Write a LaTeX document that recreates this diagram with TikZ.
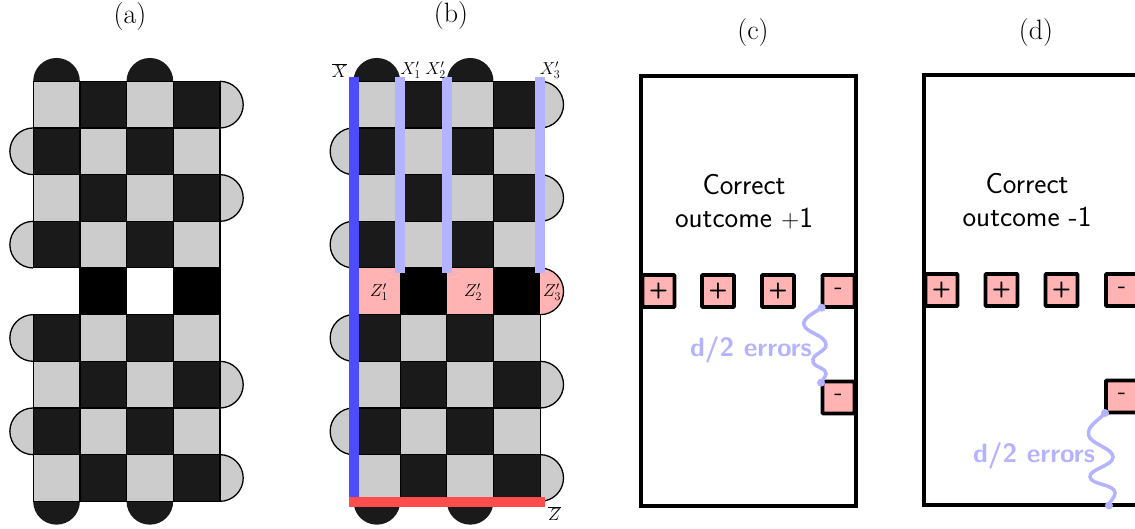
\documentclass[tikz,border=0pt]{standalone}
\definecolor{cellg}{HTML}{CCCCCC}
\definecolor{celld}{HTML}{1A1A1A}
\definecolor{pinkc}{HTML}{FFB3B3}
\definecolor{lblue}{HTML}{B3B3FF}
\definecolor{sblue}{HTML}{4D4DFF}
\definecolor{sred}{HTML}{FF4D4D}
\newcommand{\fsz}[1]{\fontsize{#1}{#1}\selectfont}
\tikzset{
  cellline/.style={draw=black,line width=1.3pt},
  capline/.style={draw=black,line width=1.3pt},
  panel/.style={draw=black,line width=3.3pt,fill=white},
  stab/.style={draw=black,line width=3.8pt,fill=pinkc,rounded corners=0.8pt,minimum width=32pt,minimum height=32pt,inner sep=0pt,font=\sffamily\fsz{26}},
  stabplus/.style={stab,font=\sffamily\bfseries\fsz{22}},
  figtitle/.style={font=\fsz{28}},
  body/.style={font=\sffamily\fsz{29},align=center,text=black},
  errtxt/.style={font=\sffamily\bfseries\fsz{26.5},text=lblue},
  squig/.style={draw=lblue,line width=3.5pt,line cap=round},
  errdot/.style={circle,fill=lblue,inner sep=0pt,minimum size=8pt},
  qlabel/.style={font=\fsz{17},inner sep=0pt},
  zlabel/.style={font=\fsz{17},inner sep=0pt},
}
\def\kk{12.885}\def\rr{23.335}
% semicircle path segments starting at the current point
\newcommand{\capup}{.. controls +(0,-\kk) and +(-\kk,0) .. ++(\rr,-\rr) .. controls +(\kk,0) and +(0,-\kk) .. ++(\rr,\rr)}
\newcommand{\capdown}{.. controls +(0,\kk) and +(-\kk,0) .. ++(\rr,\rr) .. controls +(\kk,0) and +(0,\kk) .. ++(\rr,-\rr)}
\newcommand{\capright}{.. controls +(\kk,0) and +(0,-\kk) .. ++(\rr,\rr) .. controls +(0,\kk) and +(\kk,0) .. ++(-\rr,\rr)}
\newcommand{\capleft}{.. controls +(-\kk,0) and +(0,-\kk) .. ++(-\rr,\rr) .. controls +(0,\kk) and +(-\kk,0) .. ++(\rr,\rr)}
% #1 left x, #2 colour of even mid cells (white/pink)
\newcommand{\lattice}[2]{%
  \def\csz{46.67}\def\tyy{81.3}%
  \foreach \c in {0,2}{
    \fill[celld] ({#1+\c*\csz},\tyy) \capup -- cycle;
    \fill[celld] ({#1+\c*\csz},{\tyy+9*\csz}) \capdown -- cycle;
  }
  \foreach \r in {1,3,5,7}{
    \filldraw[fill=cellg,capline] (#1,{\tyy+\r*\csz}) \capleft;
  }
  \foreach \r in {0,2,6,8}{
    \filldraw[fill=cellg,capline] ({#1+4*\csz},{\tyy+\r*\csz}) \capright;
  }
  \foreach \r in {0,...,8}{
    \foreach \c in {0,...,3}{
      \pgfmathtruncatemacro{\prty}{mod(\r+\c,2)}
      \ifnum\r=4\relax
        \ifodd\c\relax
          \filldraw[fill=black,draw=black,line width=1.3pt] ({#1+\c*\csz},{\tyy+\r*\csz}) rectangle ++(\csz,\csz);
        \else
          \fill[#2] ({#1+\c*\csz},{\tyy+\r*\csz}) rectangle ++(\csz,\csz);
        \fi
      \else
        \ifnum\prty=0\relax
          \filldraw[fill=cellg,cellline] ({#1+\c*\csz},{\tyy+\r*\csz}) rectangle ++(\csz,\csz);
        \else
          \filldraw[fill=celld,cellline] ({#1+\c*\csz},{\tyy+\r*\csz}) rectangle ++(\csz,\csz);
        \fi
      \fi
    }
  }
}
\begin{document}
\begin{tikzpicture}[x=1pt,y=-1pt]
\useasboundingbox (0,0) rectangle (1135,529);
\clip (0,0) rectangle (1135,529);
\lattice{33.2}{white}
\lattice{353.5}{pinkc}
\filldraw[fill=pinkc,capline] (540.2,268) \capright;
\fill[lblue] (395,76.7) rectangle (405,273.3);
\fill[lblue] (441.7,76.7) rectangle (451.7,273.3);
\fill[lblue] (535,76.7) rectangle (545,273.3);
\fill[sblue] (348.5,76.7) rectangle (359,500);
\fill[sred] (348.5,496.7) rectangle (545,506.7);
\node[figtitle] (ta) at (130,17) {(a)};
\node[figtitle] (tb) at (451,15.5) {(b)};
\node[figtitle] (tc) at (753,33) {(c)};
\node[figtitle] (td) at (1036,33) {(d)};
\node[qlabel] (xbar) at (339.5,71) {$\overline{X}$};
\node[qlabel] (x1) at (410.5,70) {$X'_1$};
\node[qlabel] (x2) at (435.5,70) {$X'_2$};
\node[qlabel] (x3) at (550,70) {$X'_3$};
\node[qlabel] (zbar) at (554.5,514) {$\overline{Z}$};
\node[zlabel] (z1) at (379,292) {$Z'_1$};
\node[zlabel] (z2) at (473,292) {$Z'_2$};
\node[zlabel] (z3) at (552,292) {$Z'_3$};
\draw[panel] (641,76) rectangle (856,506);
\node[body] (tc1) at (744,201.5) {Correct\\[4pt]outcome {\fsz{25}+}1};
\node[stabplus] (c1) at (658.5,291) {+};
\node[stabplus] (c2) at (718,291) {+};
\node[stabplus] (c3) at (778,291) {+};
\node[stab] (c4) at (838.5,291) {-};
\node[stab] (c5) at (838.5,397.5) {-};
\coordinate (cs) at (821.7,307.7);
\coordinate (ce) at (821,382.7);
\draw[squig] (cs) .. controls (812,314) and (802,319) .. (804,325)
  .. controls (806,333) and (826,335) .. (826,345)
  .. controls (826,352) and (811,354) .. (813,362)
  .. controls (815,368) and (827,368) .. (826,374)
  .. controls (825,378) and (822,380) .. (ce);
\node[errdot] (cd1) at (cs) {};
\node[errdot] (cd2) at (ce) {};
\node[errtxt] (ec) at (751,350) {d/2 errors};
\draw[panel] (924,75) rectangle (1140,505);
\node[body] (td1) at (1027,200.5) {Correct\\[4pt]outcome -1};
\node[stabplus] (d1) at (941.5,290) {+};
\node[stabplus] (d2) at (1001.5,290) {+};
\node[stabplus] (d3) at (1061.5,290) {+};
\node[stab] (d4) at (1122,290) {-};
\node[stab] (d5) at (1122,396.5) {-};
\coordinate (ds) at (1105,413);
\coordinate (de) at (1109,505.5);
\draw[squig] (ds) .. controls (1098,421) and (1087,426) .. (1088.5,435)
  .. controls (1090,444) and (1113,448) .. (1113,457)
  .. controls (1113,466) and (1089,469) .. (1090,477)
  .. controls (1091,485) and (1115,484) .. (1115,493)
  .. controls (1115,498) and (1110,500) .. (de);
\node[errdot] (dd1) at (ds) {};
\node[errdot] (dd2) at (de) {};
\node[errtxt] (ed) at (1034,456) {d/2 errors};
\end{tikzpicture}
\end{document}
